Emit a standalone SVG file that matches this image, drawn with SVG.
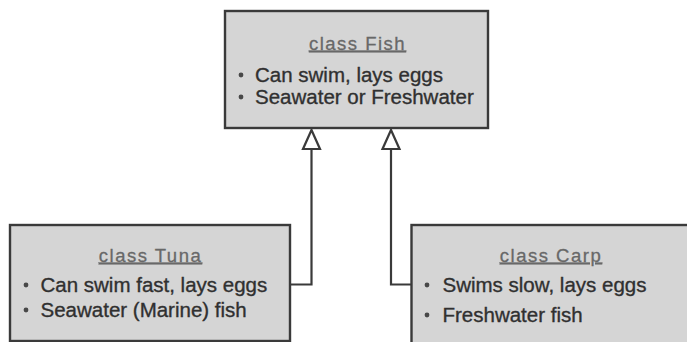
<svg xmlns="http://www.w3.org/2000/svg" width="687" height="342" viewBox="0 0 687 342">
  <style>
    .box { fill: #d5d5d5; stroke: #3a3a3a; stroke-width: 2.4; }
    .title { font-family: "Liberation Sans", Arial, sans-serif; font-size: 18.5px; fill: #686868; stroke: #686868; stroke-width: 0.3; text-anchor: middle; letter-spacing: 1.5px; text-decoration: underline; }
    .item { font-family: "Liberation Sans", Arial, sans-serif; font-size: 20.5px; fill: #303030; stroke: #303030; stroke-width: 0.35; }
    .dot { fill: #484848; }
    .link { fill: none; stroke: #3a3a3a; stroke-width: 2.2; }
    .head { fill: #ffffff; stroke: #3a3a3a; stroke-width: 2.2; stroke-linejoin: miter; }
  </style>
  <rect width="687" height="342" fill="#ffffff"/>

  <!-- inheritance links: child boxes up to the base class -->
  <g id="connectors">
    <polyline class="link" points="290,284.5 311.5,284.5 311.5,149"/>
    <polyline class="link" points="411,284.5 391,284.5 391,149"/>
    <polygon class="head" points="311.5,130 303,149 320,149"/>
    <polygon class="head" points="391,130 382.5,149 399.5,149"/>
  </g>

  <g id="fish">
    <rect class="box" x="225" y="11" width="263" height="117"/>
    <text class="title" x="357.5" y="49.5">class Fish</text>
    <circle class="dot" cx="241" cy="75" r="2.4"/>
    <text class="item" x="255" y="82">Can swim, lays eggs</text>
    <circle class="dot" cx="241" cy="97" r="2.4"/>
    <text class="item" x="255" y="104">Seawater or Freshwater</text>
  </g>

  <g id="tuna">
    <rect class="box" x="10" y="225" width="280" height="116"/>
    <text class="title" x="150.5" y="261.5">class Tuna</text>
    <circle class="dot" cx="26" cy="285" r="2.4"/>
    <text class="item" x="40.5" y="292">Can swim fast, lays eggs</text>
    <circle class="dot" cx="26" cy="310" r="2.4"/>
    <text class="item" x="40.5" y="317">Seawater (Marine) fish</text>
  </g>

  <g id="carp">
    <rect class="box" x="411.5" y="225" width="280" height="125"/>
    <text class="title" x="551" y="261.5">class Carp</text>
    <circle class="dot" cx="427" cy="285" r="2.4"/>
    <text class="item" x="442.5" y="292">Swims slow, lays eggs</text>
    <circle class="dot" cx="427" cy="315" r="2.4"/>
    <text class="item" x="442.5" y="322">Freshwater fish</text>
  </g>
</svg>
